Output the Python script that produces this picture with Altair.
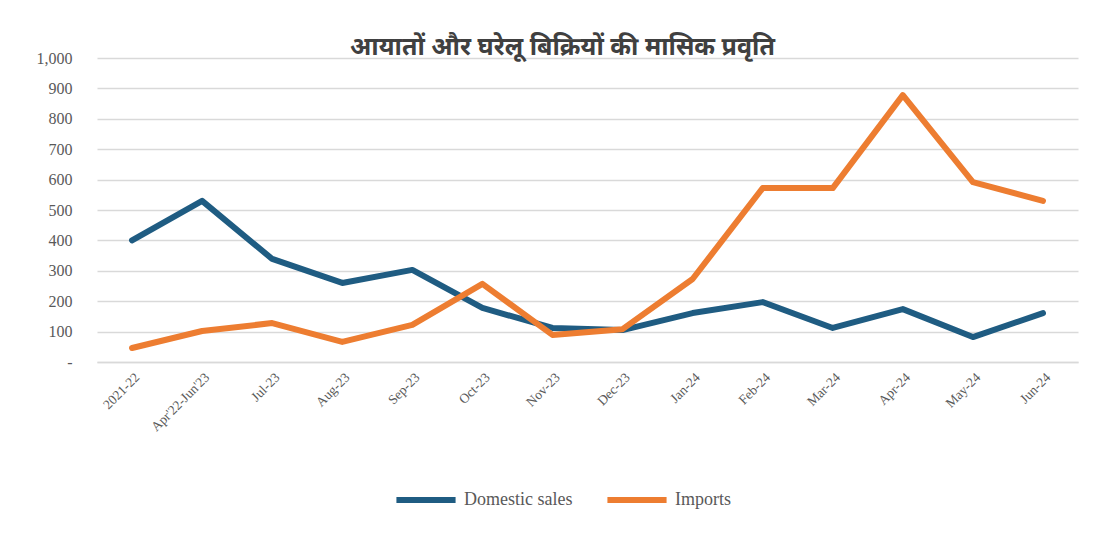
import altair as alt
import pandas as pd

categories = ["2021-22", "Apr'22-Jun'23", "Jul-23", "Aug-23", "Sep-23", "Oct-23", "Nov-23",
              "Dec-23", "Jan-24", "Feb-24", "Mar-24", "Apr-24", "May-24", "Jun-24"]
domestic_sales = [400, 530, 339, 260, 303, 178, 112, 105, 161, 197, 112, 174, 82, 161]
imports = [46, 102, 128, 66, 122, 257, 89, 108, 273, 572, 572, 878, 592, 530]
series_names = ["Domestic sales", "Imports"]
series_colors = ["#1F5C82", "#ED7D31"]
y_ticks = [0, 100, 200, 300, 400, 500, 600, 700, 800, 900, 1000]

rows = []
for i, c in enumerate(categories):
    rows.append({"cat": c, "series": series_names[0], "value": domestic_sales[i]})
    rows.append({"cat": c, "series": series_names[1], "value": imports[i]})
df = pd.DataFrame(rows)

serif = "Liberation Serif"

chart = alt.Chart(df).mark_line(strokeWidth=6, strokeCap="round", strokeJoin="round").encode(
    x=alt.X("cat:N", sort=categories, title=None,
            scale=alt.Scale(paddingOuter=0.5),
            axis=alt.Axis(labelAngle=-45, labelFont=serif, labelFontSize=13.5,
                          labelColor="#595959", ticks=False, domain=True,
                          domainColor="#D9D9D9", domainWidth=1.5, labelPadding=8,
                          grid=False)),
    y=alt.Y("value:Q", title=None,
            scale=alt.Scale(domain=[0, 1000], nice=False),
            axis=alt.Axis(values=y_ticks,
                          labelExpr="datum.value == 0 ? '-' : format(datum.value, ',')",
                          labelFont=serif, labelFontSize=16, labelColor="#595959",
                          ticks=False, domain=False, labelPadding=25,
                          grid=True, gridColor="#D9D9D9", gridWidth=1.5)),
    color=alt.Color("series:N", sort=series_names,
                    scale=alt.Scale(domain=series_names, range=series_colors),
                    legend=alt.Legend(title=None, orient="none", direction="horizontal",
                                      legendX=296, legendY=409,
                                      symbolType="stroke", symbolSize=3500,
                                      symbolStrokeWidth=6, labelFont=serif,
                                      labelFontSize=18, labelColor="#595959",
                                      columnPadding=22, labelOffset=5)),
    detail="series:N",
).properties(
    width=981,
    height=304,
    background="white",
    title=alt.Title("आयातों और घरेलू बिक्रियों की मासिक प्रवृति",
                    font="Noto Sans", fontSize=25, fontWeight="bold",
                    color="#404040", anchor="middle", offset=4, dx=-25, dy=14),
    autosize=alt.AutoSizeParams(type="none"),
    padding={"left": 89, "top": 50, "right": 20, "bottom": 150},
).configure_view(stroke=None)

chart.save("out.html", embed_options={"renderer": "svg", "actions": False})
